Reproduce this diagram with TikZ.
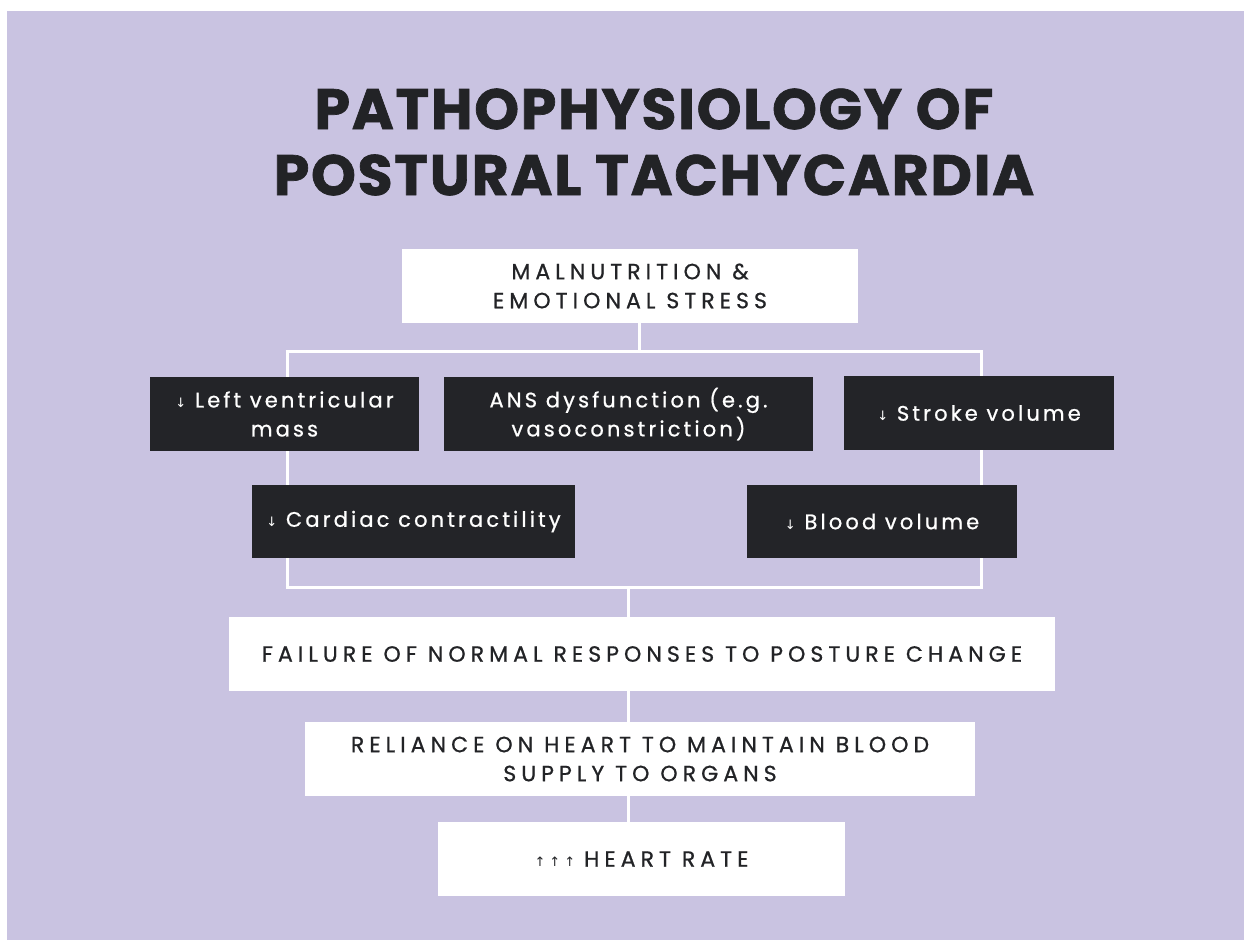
\documentclass[tikz,border=0pt]{standalone}
\usepackage{fontspec}
\setmainfont{Poppins}
\newfontfamily\titlefont[LetterSpace=3,FakeBold=1.2]{Poppins}
\newfontfamily\boxfont[LetterSpace=23,FakeBold=0.8]{Poppins}
\newfontfamily\darkfont[LetterSpace=15,FakeBold=0.8]{Poppins}
\newfontfamily\arrowfont{DejaVu Sans}
\definecolor{lav}{HTML}{C9C3E1}
\definecolor{darkbox}{HTML}{232428}
\definecolor{ink}{HTML}{222326}
\pgfdeclarelayer{bgzero}
\pgfdeclarelayer{lines}
\pgfsetlayers{bgzero,lines,main}
\tikzset{
  whitebox/.style={fill=white, draw=none, text=ink, align=center, inner sep=0pt, font=\boxfont\fontsize{22}{29}\selectfont},
  darkcell/.style={fill=darkbox, draw=none, text=white, align=center, inner sep=0pt, font=\darkfont\fontsize{21}{29}\selectfont},
  conn/.style={draw=white, line width=3pt},
}
\newcommand{\dn}{{\arrowfont\fontsize{13}{13}\selectfont ↓}}
\newcommand{\up}{{\arrowfont\fontsize{13}{13}\selectfont ↑}}
\begin{document}
\begin{tikzpicture}[x=1pt,y=-1pt]
\useasboundingbox (0,0) rectangle (1244,940);
\begin{pgfonlayer}{bgzero}
\fill[lav] (7,11) rectangle (1244,940);
\end{pgfonlayer}
\node[text=ink, align=center, font=\titlefont\bfseries\fontsize{57}{66}\selectfont] (title) at (654,142) {PATHOPHYSIOLOGY OF\\POSTURAL TACHYCARDIA};
\node[whitebox, minimum width=456pt, minimum height=74pt] (top) at (630,286) {MALNUTRITION \&\\EMOTIONAL STRESS};
\node[darkcell, minimum width=269pt, minimum height=74pt] (lv) at (284.5,414) {\dn{} Left ventricular\\mass};
\node[darkcell, minimum width=369pt, minimum height=74pt] (ans) at (628.5,414) {ANS dysfunction (e.g.\\vasoconstriction)};
\node[darkcell, minimum width=270pt, minimum height=74pt] (sv) at (979,413) {\dn{} Stroke volume};
\node[darkcell, minimum width=323pt, minimum height=73pt] (cc) at (413.5,521.5) {\dn{} Cardiac contractility};
\node[darkcell, minimum width=270pt, minimum height=73pt] (bv) at (882,521.5) {\dn{} Blood volume};
\node[whitebox, minimum width=826pt, minimum height=74pt] (fail) at (642,654) {FAILURE OF NORMAL RESPONSES TO POSTURE CHANGE};
\node[whitebox, minimum width=670pt, minimum height=74pt] (rel) at (640,759) {RELIANCE ON HEART TO MAINTAIN BLOOD\\SUPPLY TO ORGANS};
\node[whitebox, minimum width=407pt, minimum height=74pt] (hr) at (641.5,859) {\up\hspace{4pt}\up\hspace{4pt}\up\hspace{-2pt} HEART RATE};
\coordinate (j1) at (639,351);
\coordinate (tl) at (287,351);
\coordinate (tr) at (981,351);
\coordinate (bl) at (287,587);
\coordinate (br) at (981,587);
\coordinate (j2) at (628,587);
\begin{pgfonlayer}{lines}
\draw[conn] (top.south -| j1) -- (j1);
\draw[conn] ([xshift=-1.5pt]tl) -- ([xshift=1.5pt]tr);
\draw[conn] (tl) -- (bl);
\draw[conn] (tr) -- (br);
\draw[conn] ([xshift=-1.5pt]bl) -- ([xshift=1.5pt]br);
\draw[conn] (j2) -- (fail.north -| j2);
\draw[conn] (fail.south -| j2) -- (rel.north -| j2);
\draw[conn] (rel.south -| j2) -- (hr.north -| j2);
\end{pgfonlayer}
\end{tikzpicture}
\end{document}
